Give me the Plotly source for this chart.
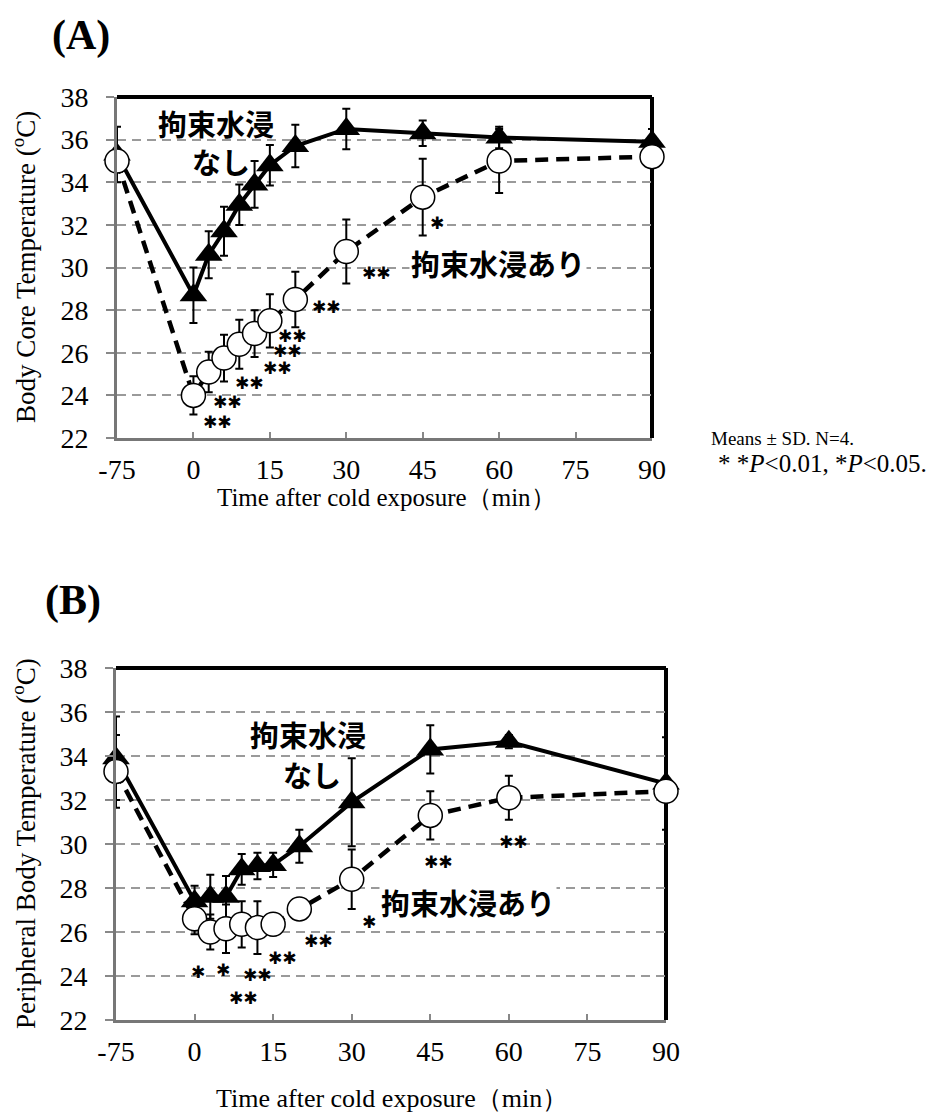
import plotly.graph_objects as go

# ---------------- data ----------------
time_min = [-75, 0, 3, 6, 9, 12, 15, 20, 30, 45, 60, 90]
tick_labels = ['-75', '0', '15', '30', '45', '60', '75', '90']
tick_minutes = [-75, 0, 15, 30, 45, 60, 75, 90]

# (A) body core temperature
A_none_mean = [35.3, 28.7, 30.6, 31.7, 32.95, 33.9, 34.8, 35.7, 36.5, 36.3, 36.1, 35.9]
A_none_sd = [1.3, 1.3, 1.1, 1.15, 0.95, 1.1, 0.95, 1.0, 0.95, 0.6, 0.5, 0.6]
A_with_mean = [35.0, 24.0, 25.1, 25.75, 26.4, 26.9, 27.5, 28.5, 30.75, 33.3, 35.0, 35.2]
A_with_sd = [0.3, 0.9, 0.95, 1.1, 1.15, 1.1, 1.25, 1.3, 1.5, 1.8, 1.5, 0.3]

# (B) peripheral body temperature
B_none_mean = [33.9, 27.4, 27.6, 27.6, 28.85, 29.0, 29.05, 29.9, 31.9, 34.3, 34.65, 32.75]
B_none_sd = [1.9, 0.7, 1.0, 0.95, 0.7, 0.6, 0.55, 0.75, 2.0, 1.1, 0.3, 2.1]
B_with_mean = [33.3, 26.6, 26.0, 26.15, 26.35, 26.2, 26.35, 27.05, 28.4, 31.3, 32.1, 32.4]
B_with_sd = [1.65, 0.7, 0.8, 1.1, 1.05, 1.2, 0.5, 0.5, 1.35, 1.1, 1.0, 0.3]

# significance marks (time, temperature, text)
A_star_t = [4.7, 6.7, 11.0, 16.5, 18.5, 19.5, 26.1, 36.0, 47.9]
A_star_v = [22.75, 23.7, 24.6, 25.3, 26.1, 26.8, 28.15, 29.75, 32.1]
A_star_txt = ['**', '**', '**', '**', '**', '**', '**', '**', '*']
B_star_t = [0.7, 5.5, 12.0, 9.3, 16.7, 23.6, 33.3, 46.5, 60.8]
B_star_v = [24.2, 24.27, 24.05, 22.99, 24.82, 25.6, 26.47, 29.2, 30.1]
B_star_txt = ['*', '*', '**', '**', '**', '**', '*', '**', '**']

label_none = ['拘束水浸', 'なし']
label_with = '拘束水浸あり'


def pos(t):
    # axis break: the -75 min baseline is drawn one interval left of 0
    return t if t >= 0 else -15


x_pos = [pos(t) for t in time_min]
tick_pos = [pos(t) for t in tick_minutes]

W, H = 936, 1118
SERIF = 'Liberation Serif, Times New Roman, serif'
JP = 'Noto Sans CJK JP'
STAR_FONT = 'DejaVu Sans'

fig = go.Figure()


def add_panel(xa, ya, none_m, none_sd, with_m, with_sd):
    fig.add_trace(go.Scatter(
        x=x_pos, y=none_m, xaxis=xa, yaxis=ya, mode='lines+markers',
        line=dict(color='black', width=4),
        marker=dict(symbol='triangle-up', size=24, color='black'),
        error_y=dict(type='data', array=none_sd, color='black', thickness=2, width=4),
        cliponaxis=False, showlegend=False, hoverinfo='skip'))
    fig.add_trace(go.Scatter(
        x=x_pos, y=with_m, xaxis=xa, yaxis=ya, mode='lines+markers',
        line=dict(color='black', width=4.5, dash='13px,8px'),
        marker=dict(symbol='circle', size=24, color='white',
                    line=dict(color='black', width=1.5)),
        error_y=dict(type='data', array=with_sd, color='black', thickness=2, width=4),
        cliponaxis=False, showlegend=False, hoverinfo='skip'))


add_panel('x', 'y', A_none_mean, A_none_sd, A_with_mean, A_with_sd)
add_panel('x2', 'y2', B_none_mean, B_none_sd, B_with_mean, B_with_sd)

# panel geometry (pixels)
A_box = (117, 652, 97, 438)
B_box = (116, 666, 668, 1020)


def dom(box):
    l, r, t, b = box
    return [l / W, r / W], [1 - b / H, 1 - t / H]


axis_common = dict(
    showline=True, linecolor='#777777', linewidth=3, automargin=False,
    tickfont=dict(family=SERIF, size=28, color='black'),
    zeroline=False,
)

Ax, Ay = dom(A_box)
Bx, By = dom(B_box)

for name, d, anchor in (('xaxis', Ax, 'y'), ('xaxis2', Bx, 'y2')):
    fig.layout[name] = dict(
        domain=d, anchor=anchor, range=[-15, 90], tickmode='array',
        tickvals=tick_pos, ticktext=tick_labels, ticks='inside', ticklen=6,
        tickcolor='#888888', tickwidth=1.5, showgrid=False,
        ticklabelstandoff=4, **axis_common)
for name, d, anchor in (('yaxis', Ay, 'x'), ('yaxis2', By, 'x2')):
    fig.layout[name] = dict(
        domain=d, anchor=anchor, range=[22, 38], dtick=2, tick0=22,
        ticks='outside', ticklen=8, tickcolor='#888888', tickwidth=1.5,
        showgrid=True, gridcolor='#9a9a9a', gridwidth=1.5, griddash='9px,6px',
        ticklabelstandoff=12, **axis_common)

# top / right borders (thick black)
shapes = []
for xr, yr in (('x domain', 'y domain'), ('x2 domain', 'y2 domain')):
    shapes.append(dict(type='line', xref=xr, yref=yr, x0=0, x1=1, y0=1, y1=1,
                       line=dict(color='black', width=4), layer='below'))
    shapes.append(dict(type='line', xref=xr, yref=yr, x0=1, x1=1, y0=0, y1=1,
                       line=dict(color='black', width=4), layer='below'))
fig.update_layout(shapes=shapes)

ann = []
# star annotations
for xr, yr, ts, vs, txts in (('x', 'y', A_star_t, A_star_v, A_star_txt),
                             ('x2', 'y2', B_star_t, B_star_v, B_star_txt)):
    for t, v, s in zip(ts, vs, txts):
        ann.append(dict(x=t, y=v, xref=xr, yref=yr, text=s.replace('*', '✱'),
                        showarrow=False, font=dict(family=STAR_FONT, size=17, color='black')))

# group labels
for xr, yr, p1, p2, p3 in (('x', 'y', (4.5, 36.8), (5.5, 35.0), (59.7, 30.2)),
                           ('x2', 'y2', (21.7, 35.0), (22.5, 33.2), (52.2, 27.35))):
    ann.append(dict(x=p1[0], y=p1[1], xref=xr, yref=yr, text='<b>%s</b>' % label_none[0],
                    showarrow=False, font=dict(family=JP, size=29, color='black')))
    ann.append(dict(x=p2[0], y=p2[1], xref=xr, yref=yr, text='<b>%s</b>' % label_none[1],
                    showarrow=False, font=dict(family=JP, size=29, color='black')))
    ann.append(dict(x=p3[0], y=p3[1], xref=xr, yref=yr, text='<b>%s</b>' % label_with,
                    showarrow=False, font=dict(family=JP, size=29, color='black'),
                    bgcolor='white'))


def px(xp, yp):
    return xp / W, 1 - yp / H


def text_ann(xp, yp, text, size, angle=0, xanchor='center'):
    x, y = px(xp, yp)
    ann.append(dict(x=x, y=y, xref='paper', yref='paper', text=text, showarrow=False,
                    textangle=angle, xanchor=xanchor, yanchor='middle',
                    font=dict(family=SERIF, size=size, color='black')))


text_ann(81, 36, '<b>(A)</b>', 42)
text_ann(73, 600, '<b>(B)</b>', 42)
text_ann(24, 267, 'Body Core Temperature (<sup>o</sup>C)', 27, angle=-90)
text_ann(24, 844, 'Peripheral Body Temperature (<sup>o</sup>C)', 27, angle=-90)
text_ann(386, 498, 'Time after cold exposure（min）', 25)
text_ann(392, 1098, 'Time after cold exposure（min）', 26)
text_ann(709, 439, 'Means ± SD. N=4.', 19, xanchor='left')
text_ann(716, 463, '* *<i>P</i>&lt;0.01, *<i>P</i>&lt;0.05.', 25, xanchor='left')

fig.update_layout(annotations=ann, width=W, height=H, template='none',
                  margin=dict(l=0, r=0, t=0, b=0, autoexpand=False),
                  paper_bgcolor='white', plot_bgcolor='white')

fig.write_html('out.html', config={'displayModeBar': False},
               post_script="document.body.style.margin='0px';document.body.style.overflow='hidden';")
